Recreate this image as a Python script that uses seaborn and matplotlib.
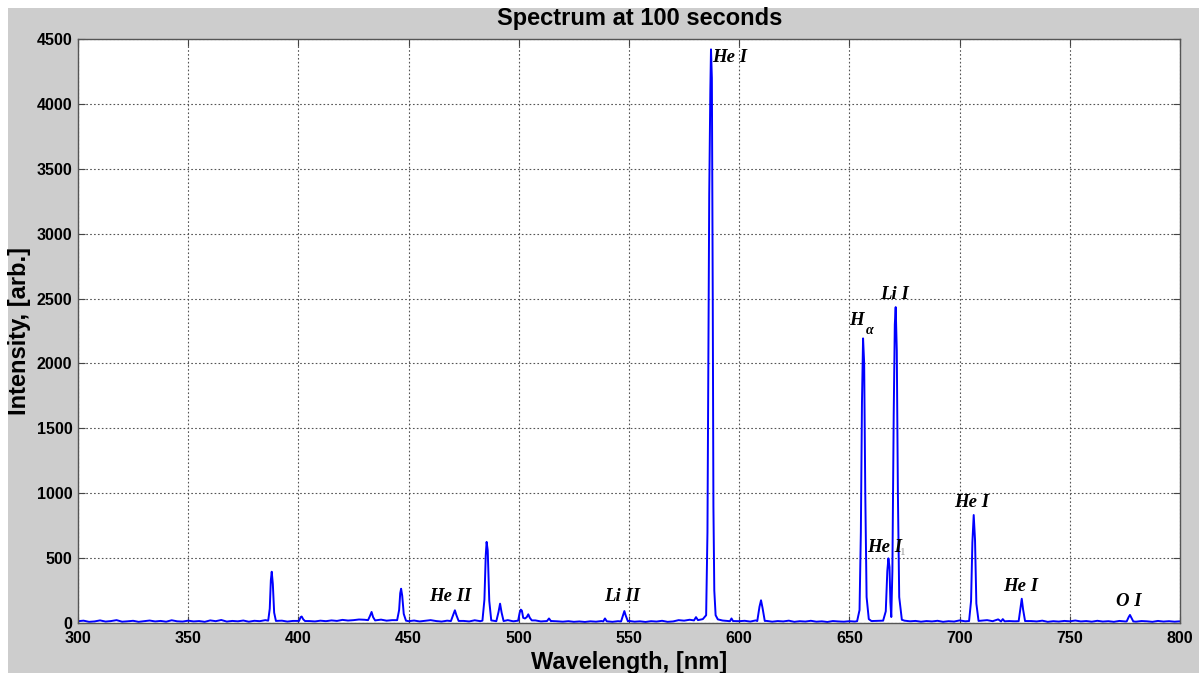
import numpy as np
import matplotlib
matplotlib.use("Agg")
import matplotlib.pyplot as plt
from matplotlib.patches import Rectangle
import seaborn as sns

# ---------------- data ----------------
baseline_start, baseline_step = 300.0, 2.5
baseline_int = [
    14, 18, 9, 12, 20, 11, 15, 22, 10, 13,
    17, 9, 14, 19, 12, 16, 10, 21, 13, 11,
    18, 12, 15, 9, 20, 14, 23, 11, 16, 13,
    19, 10, 17, 14, 22, 12, 15, 18, 11, 16,
    13, 21, 15, 12, 18, 14, 20, 16, 24, 19,
    22, 27, 25, 30, 21, 26, 18, 22, 17, 20,
    14, 19, 12, 17, 22, 15, 11, 18, 13, 20,
    16, 12, 21, 14, 17, 11, 19, 15, 22, 13,
    18, 24, 16, 20, 12, 27, 15, 13, 10, 14,
    9, 12, 8, 13, 10, 15, 11, 9, 14, 12,
    16, 10, 13, 8, 14, 11, 17, 9, 12, 22,
    18, 25, 14, 30, 20, 16, 12, 19, 15, 26,
    14, 17, 11, 20, 13, 16, 10, 15, 12, 18,
    9, 14, 11, 17, 10, 13, 8, 15, 12, 10,
    14, 11, 16, 12, 9, 13, 17, 10, 14, 12,
    18, 13, 16, 10, 15, 12, 17, 9, 14, 11,
    20, 13, 16, 12, 18, 22, 14, 28, 11, 15,
    13, 17, 10, 15, 12, 18, 9, 14, 11, 16,
    13, 19, 12, 15, 10, 17, 11, 14, 9, 16,
    12, 18, 10, 15, 13, 9, 16, 11, 14, 10,
    13,
]

line_wl = [
    [386.3, 387.0, 387.5, 387.9, 388.4, 389.0, 389.8],
    [400.3, 401.0, 401.5, 402.2, 403.0],
    [431.6, 432.5, 433.2, 433.9, 434.8],
    [444.8, 445.7, 446.2, 446.6, 447.1, 447.8, 448.8],
    [469.2, 470.3, 471.0, 471.7, 472.7],
    [483.5, 484.4, 485.0, 485.4, 485.9, 486.6, 487.5],
    [489.8, 490.8, 491.5, 492.2, 493.1],
    [499.7, 500.4, 500.9, 501.4, 502.0, 502.8, 503.6, 504.3, 505.0, 505.9],
    [512.8, 513.7, 514.6],
    [538.3, 539.1, 539.9],
    [546.4, 547.3, 547.9, 548.5, 549.5],
    [579.5, 580.4, 581.3, 583.5, 585.0, 585.6, 586.0, 586.4, 586.9, 587.2,
     587.6, 588.0, 588.3, 588.7, 589.3, 590.3],
    [595.8, 596.5, 597.2],
    [608.2, 609.2, 609.9, 610.6, 611.6],
    [653.5, 654.6, 655.2, 655.7, 656.2, 656.7, 657.2, 657.8, 658.8, 660.0,
     665.3, 666.5, 667.2, 667.7, 668.2, 668.6, 669.0, 669.5, 670.1, 670.6,
     671.0, 671.5, 672.0, 672.6, 673.8],
    [704.3, 705.2, 705.8, 706.4, 707.0, 707.6, 708.6],
    [718.8, 719.6, 720.4],
    [726.8, 727.6, 728.2, 728.8, 729.7],
    [775.8, 776.7, 777.3, 777.9, 778.8],
]
line_int = [
    [18, 110, 330, 395, 300, 80, 16],
    [16, 45, 50, 28, 15],
    [22, 55, 85, 45, 20],
    [22, 100, 230, 264, 210, 70, 18],
    [15, 65, 98, 60, 16],
    [18, 180, 520, 625, 560, 170, 20],
    [14, 85, 149, 80, 15],
    [18, 80, 103, 95, 40, 35, 45, 67, 40, 20],
    [15, 35, 14],
    [12, 35, 13],
    [12, 60, 92, 58, 13],
    [20, 45, 22, 30, 60, 700, 2000, 3300, 4100, 4420,
     4200, 2500, 900, 250, 60, 28],
    [14, 35, 15],
    [15, 125, 175, 115, 16],
    [14, 100, 700, 1700, 2193, 2000, 1000, 200, 30, 15,
     18, 90, 400, 498, 430, 160, 46, 400, 1600, 2300,
     2434, 2100, 1000, 200, 25],
    [15, 170, 620, 832, 640, 150, 16],
    [12, 30, 13],
    [14, 115, 187, 105, 15],
    [12, 45, 62, 42, 12],
]

labels_text = ["He I", "He II", "Li II", "H", "\u03b1", "Li I", "He I", "He I", "He I", "O I"]
labels_x = [587.8, 468.8, 546.7, 653.2, 659.1, 670.5, 665.9, 705.6, 727.9, 776.6]
labels_y = [4357, 204, 204, 2334, 2250, 2531, 578, 925, 281, 162]

x_ticks = [300, 350, 400, 450, 500, 550, 600, 650, 700, 750, 800]
y_ticks = [0, 500, 1000, 1500, 2000, 2500, 3000, 3500, 4000, 4500]

# -------------- assemble spectrum --------------
base_wl = baseline_start + baseline_step * np.arange(len(baseline_int))
base_int = np.array(baseline_int, dtype=float)
keep = np.ones(len(base_wl), dtype=bool)
for wl in line_wl:
    keep &= ~((base_wl >= min(wl) - 0.3) & (base_wl <= max(wl) + 0.3))
all_wl = np.concatenate([base_wl[keep]] + [np.array(w) for w in line_wl])
all_int = np.concatenate([base_int[keep]] + [np.array(v, dtype=float) for v in line_int])
order = np.argsort(all_wl)
all_wl, all_int = all_wl[order], all_int[order]

# ---------------- plot ----------------
sns.set_style("white")
plt.rcParams["font.family"] = ["Liberation Sans", "DejaVu Sans"]
plt.rcParams["text.color"] = "black"
plt.rcParams["axes.labelcolor"] = "black"
plt.rcParams["xtick.color"] = "black"
plt.rcParams["ytick.color"] = "black"

fig = plt.figure(figsize=(11.99, 6.73), dpi=100, facecolor="#cdcdcd")
ax = fig.add_axes([78 / 1199, 50 / 673, 1102 / 1199, 584 / 673])
ax.set_facecolor("white")

sns.lineplot(x=all_wl, y=all_int, ax=ax, color="#0000ff", linewidth=1.4,
             estimator=None, sort=False)

ax.set_xlim(300, 800)
ax.set_ylim(0, 4500)
ax.set_xticks(x_ticks)
ax.set_yticks(y_ticks)
ax.set_xticklabels([str(t) for t in x_ticks], fontsize=11.5, fontweight="bold")
ax.set_yticklabels([str(t) for t in y_ticks], fontsize=11.5, fontweight="bold")
ax.tick_params(axis="both", direction="in", length=5, width=0.8, color="#444444",
               labelcolor="black", top=True, right=True, bottom=True, left=True)
ax.tick_params(axis="x", pad=6)
ax.tick_params(axis="y", pad=4)
ax.grid(True, linestyle=(0, (1.5, 2)), color="#555555", linewidth=0.8)
for s in ax.spines.values():
    s.set_color("#555555")
    s.set_linewidth(1.0)

ax.set_title("Spectrum at 100 seconds", fontsize=17, fontweight="bold", pad=10,
             x=0.51, color="black")
ax.set_xlabel("Wavelength, [nm]", fontsize=17, fontweight="bold", labelpad=3)
ax.set_ylabel("Intensity, [arb.]", fontsize=17, fontweight="bold", labelpad=4)

serif = ["Liberation Serif", "DejaVu Serif"]
for i, (txt, lx, ly) in enumerate(zip(labels_text, labels_x, labels_y)):
    if txt == "\u03b1":
        ax.text(lx, ly, txt, fontsize=10, fontweight="bold", fontstyle="italic",
                family=serif, ha="center", va="center", color="black")
    else:
        ax.text(lx, ly, txt, fontsize=13.5, fontweight="bold", fontstyle="italic",
                family=serif, ha="left" if i == 0 else "center", va="center",
                color="black")
# faint subscript artefact next to the He I label near 668 nm
ax.text(674.3, 542, "1", fontsize=8, color="#999999", ha="center", va="center", family=serif)

# white margin strips seen at the top and left edges of the original image
fig.patches.append(Rectangle((0, 1 - 8 / 673), 1, 8 / 673, transform=fig.transFigure,
                             facecolor="white", edgecolor="none", zorder=-1))
fig.patches.append(Rectangle((0, 0), 8 / 1199, 1, transform=fig.transFigure,
                             facecolor="white", edgecolor="none", zorder=-1))

fig.savefig("out.png", dpi=100, facecolor=fig.get_facecolor())
